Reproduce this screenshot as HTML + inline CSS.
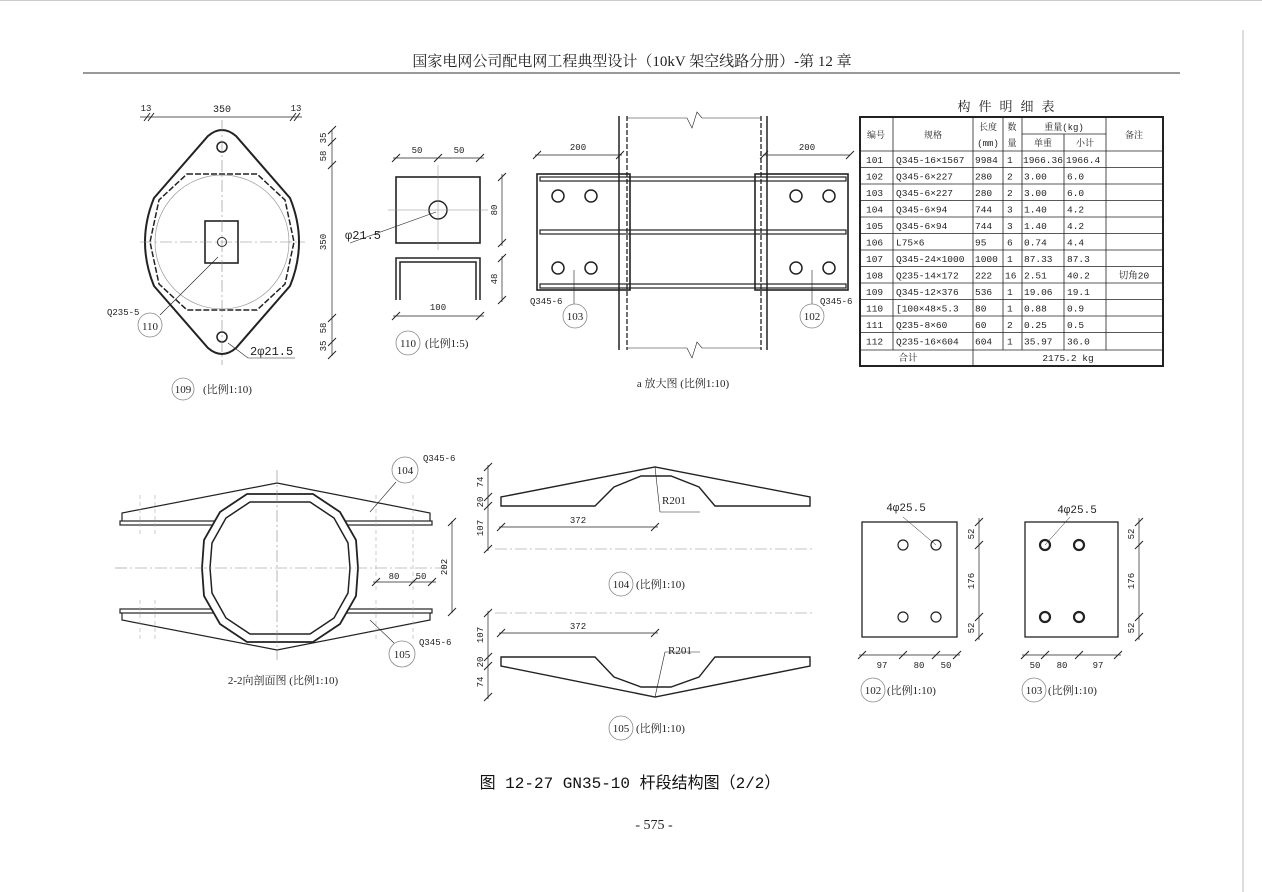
<!DOCTYPE html>
<html><head><meta charset="utf-8"><style>
html,body{margin:0;padding:0;background:#fff;}
svg{display:block;font-family:"Liberation Serif","Noto Serif CJK SC","Noto Sans CJK SC",serif;}
.t{font-size:11px;fill:#222;}
.s{font-size:9px;fill:#222;font-family:"Liberation Mono","Noto Serif CJK SC",monospace;}
.c{text-anchor:middle;}
</style></head><body>
<svg width="1262" height="892" viewBox="0 0 1262 892" xmlns="http://www.w3.org/2000/svg">
<rect width="1262" height="892" fill="#fff"/>
<line x1="1243" y1="30" x2="1243" y2="892" stroke="#bbb" stroke-width="1"/>
<line x1="0" y1="0.5" x2="1262" y2="0.5" stroke="#ccc"/>
<text x="632" y="66" class="c" style="font-size:15px;fill:#222">国家电网公司配电网工程典型设计（10kV 架空线路分册）-第 12 章</text>
<line x1="83" y1="73" x2="1180" y2="73" stroke="#333" stroke-width="1"/>

<g fill="none" stroke="#222" stroke-width="1">
<path d="M208,136 Q222,124 236,136 L290,198 Q308,242 290,286 L236,348 Q222,360 208,348 L154,286 Q136,242 154,198 Z" stroke-width="2"/>
<path d="M187,174 L257,174 L285,200 L294,242 L285,284 L257,310 L187,310 L159,284 L150,242 L159,200 Z" stroke-dasharray="6,2" stroke-width="1.5"/>
<circle cx="222" cy="242" r="67" stroke="#999" stroke-width="0.7"/>
<rect x="205" y="221" width="33" height="42" stroke-width="1.6"/>
<circle cx="222" cy="242" r="4.5"/>
<circle cx="222" cy="147" r="5" stroke-width="1.5"/>
<circle cx="222" cy="337" r="5" stroke-width="1.5"/>
<g stroke="#888" stroke-width="0.6" stroke-dasharray="12,3,2,3"><line x1="140" y1="242" x2="305" y2="242"/><line x1="222" y1="120" x2="222" y2="365"/></g>
<line x1="140" y1="117" x2="302" y2="117" stroke-width="0.7"/>
<path d="M144,121 l6,-8 M148,121 l6,-8 M290,121 l6,-8 M294,121 l6,-8" stroke-width="1"/>
<line x1="332" y1="130" x2="332" y2="356" stroke-width="0.7"/>
<path d="M328,134 l8,-8 M328,146 l8,-8 M328,169 l8,-8 M328,322 l8,-8 M328,346 l8,-8 M328,359 l8,-8"/>
<line x1="218" y1="257" x2="160" y2="315" stroke-width="0.6"/>
<polyline points="228,343 248,358 295,358" stroke-width="0.6"/>
<circle cx="150" cy="325" r="12" stroke="#888" stroke-width="0.8"/>
<circle cx="183" cy="389" r="11" stroke="#888" stroke-width="0.8"/>
<rect x="396" y="177" width="84" height="66" stroke-width="1.6"/>
<circle cx="438" cy="210" r="9" stroke-width="1.4"/>
<g stroke="#888" stroke-width="0.5"><line x1="388" y1="210" x2="488" y2="210"/><line x1="438" y1="165" x2="438" y2="250"/></g>
<line x1="350" y1="243" x2="436" y2="212" stroke-width="0.6"/>
<line x1="393" y1="158" x2="484" y2="158" stroke-width="0.7"/>
<path d="M392,162 l8,-8 M434,162 l8,-8 M476,162 l8,-8"/>
<line x1="502" y1="174" x2="502" y2="246" stroke-width="0.7"/>
<path d="M498,181 l8,-8 M498,247 l8,-8 M498,262 l8,-8 M498,304 l8,-8"/>
<line x1="502" y1="256" x2="502" y2="302" stroke-width="0.7"/>
<path d="M396,300 L396,258 L480,258 L480,300 M476,300 L476,262 L400,262 L400,300" stroke-width="1.5"/>
<line x1="393" y1="316" x2="484" y2="316" stroke-width="0.7"/>
<path d="M392,320 l8,-8 M476,320 l8,-8"/>
<circle cx="408" cy="343" r="12" stroke="#888" stroke-width="0.8"/>
<line x1="619" y1="116" x2="619" y2="350" stroke-width="1.5"/>
<line x1="627" y1="116" x2="627" y2="350" stroke-dasharray="5,2" stroke-width="1.3"/>
<line x1="761" y1="116" x2="761" y2="350" stroke-dasharray="5,2" stroke-width="1.3"/>
<line x1="767" y1="116" x2="767" y2="350" stroke-width="1.5"/>
<polyline points="627,118 687,118 692,128 697,112 702,118 761,118" stroke-width="0.6"/>
<polyline points="627,348 687,348 692,358 697,342 702,348 761,348" stroke-width="0.6"/>
<rect x="537" y="174" width="93" height="116" stroke-width="1.6"/>
<rect x="755" y="174" width="93" height="116" stroke-width="1.6"/>
<g stroke-width="1.2"><rect x="540" y="177" width="306" height="4"/><rect x="540" y="230" width="306" height="4"/><rect x="540" y="284" width="306" height="4"/></g>
<g stroke-width="1.5"><circle cx="558" cy="196" r="6"/><circle cx="591" cy="196" r="6"/><circle cx="558" cy="268" r="6"/><circle cx="591" cy="268" r="6"/><circle cx="796" cy="196" r="6"/><circle cx="829" cy="196" r="6"/><circle cx="796" cy="268" r="6"/><circle cx="829" cy="268" r="6"/></g>
<line x1="535" y1="155" x2="622" y2="155" stroke-width="0.7"/>
<line x1="763" y1="155" x2="850" y2="155" stroke-width="0.7"/>
<path d="M533,159 l8,-8 M616,159 l8,-8 M760,159 l8,-8 M846,159 l8,-8"/>
<line x1="574" y1="270" x2="574" y2="304" stroke-width="0.6"/>
<line x1="812" y1="270" x2="812" y2="304" stroke-width="0.6"/>
<circle cx="575" cy="316" r="12" stroke="#888" stroke-width="0.8"/>
<circle cx="812" cy="316" r="12" stroke="#888" stroke-width="0.8"/>
<rect x="860" y="117" width="303" height="249" stroke-width="2"/>
<g stroke-width="0.8">
<line x1="893" y1="117" x2="893" y2="350"/><line x1="973" y1="117" x2="973" y2="366"/>
<line x1="1003" y1="117" x2="1003" y2="350"/><line x1="1022" y1="117" x2="1022" y2="350"/>
<line x1="1064" y1="134" x2="1064" y2="350"/><line x1="1106" y1="117" x2="1106" y2="350"/>
<line x1="1022" y1="134" x2="1106" y2="134"/>
<line x1="860" y1="151" x2="1163" y2="151"/>
<line x1="860" y1="167.5" x2="1163" y2="167.5"/><line x1="860" y1="184" x2="1163" y2="184"/>
<line x1="860" y1="200.5" x2="1163" y2="200.5"/><line x1="860" y1="217" x2="1163" y2="217"/>
<line x1="860" y1="233.5" x2="1163" y2="233.5"/><line x1="860" y1="250" x2="1163" y2="250"/>
<line x1="860" y1="266.5" x2="1163" y2="266.5"/><line x1="860" y1="283" x2="1163" y2="283"/>
<line x1="860" y1="299.5" x2="1163" y2="299.5"/><line x1="860" y1="316" x2="1163" y2="316"/>
<line x1="860" y1="332.5" x2="1163" y2="332.5"/><line x1="860" y1="350" x2="1163" y2="350"/>
</g>
<path d="M122,521 L122,513 L277,483 L430,513 L430,521" stroke-width="1.2"/>
<path d="M122,613 L122,620 L277,650 L430,620 L430,613" stroke-width="1.2"/>
<rect x="120" y="521" width="312" height="4" stroke-width="1.2"/>
<rect x="120" y="609" width="312" height="4" stroke-width="1.2"/>
<path d="M247,494 L313,494 L340,512 L356,540 L358,568 L356,596 L340,624 L313,642 L247,642 L220,624 L204,596 L202,568 L204,540 L220,512 Z" fill="#fff" stroke-width="1.8"/>
<path d="M250,502 L310,502 L334,518 L348,543 L350,568 L348,593 L334,618 L310,634 L250,634 L226,618 L212,593 L210,568 L212,543 L226,518 Z" stroke-width="1.5"/>
<g stroke="#888" stroke-width="0.6" stroke-dasharray="12,3,2,3"><line x1="115" y1="568" x2="450" y2="568"/><line x1="277" y1="470" x2="277" y2="660"/></g>
<g stroke="#aaa" stroke-width="0.6" stroke-dasharray="4,3"><line x1="140" y1="495" x2="140" y2="535"/><line x1="155" y1="495" x2="155" y2="535"/><line x1="140" y1="600" x2="140" y2="640"/><line x1="155" y1="600" x2="155" y2="640"/><line x1="376" y1="495" x2="376" y2="590"/><line x1="413" y1="495" x2="413" y2="590"/><line x1="376" y1="600" x2="376" y2="640"/><line x1="413" y1="600" x2="413" y2="640"/></g>
<line x1="452" y1="521" x2="452" y2="613" stroke-width="0.7"/>
<path d="M448,526 l8,-8 M448,616 l8,-8"/>
<line x1="373" y1="582" x2="436" y2="582" stroke-width="0.7"/>
<path d="M372,586 l8,-8 M409,586 l8,-8 M428,586 l8,-8"/>
<line x1="396" y1="482" x2="370" y2="512" stroke-width="0.6"/>
<line x1="394" y1="643" x2="370" y2="620" stroke-width="0.6"/>
<circle cx="405" cy="470" r="13" stroke="#888" stroke-width="0.8"/>
<circle cx="402" cy="654" r="13" stroke="#888" stroke-width="0.8"/>
<path d="M501,506 L501,497 L655,467 L810,497 L810,506 L715,506 L699,487 L671,476 L641,476 L614,487 L595,506 Z" stroke-width="1.4"/>
<line x1="655" y1="467" x2="660" y2="512" stroke-width="0.6"/><line x1="660" y1="512" x2="700" y2="512" stroke-width="0.6"/>
<line x1="499" y1="527" x2="658" y2="527" stroke-width="0.7"/>
<path d="M497,531 l8,-8 M651,531 l8,-8"/>
<line x1="488" y1="465" x2="488" y2="551" stroke-width="0.7"/>
<path d="M484,471 l8,-8 M484,501 l8,-8 M484,510 l8,-8 M484,553 l8,-8"/>
<line x1="495" y1="549" x2="812" y2="549" stroke="#888" stroke-width="0.6" stroke-dasharray="12,3,2,3"/>
<circle cx="621" cy="584" r="12" stroke="#888" stroke-width="0.8"/>
<path d="M501,657 L501,666 L655,697 L810,666 L810,657 L715,657 L699,677 L671,687 L641,687 L614,677 L595,657 Z" stroke-width="1.4"/>
<line x1="655" y1="697" x2="665" y2="652" stroke-width="0.6"/><line x1="665" y1="652" x2="700" y2="652" stroke-width="0.6"/>
<line x1="499" y1="633" x2="658" y2="633" stroke-width="0.7"/>
<path d="M497,637 l8,-8 M651,637 l8,-8"/>
<line x1="488" y1="611" x2="488" y2="699" stroke-width="0.7"/>
<path d="M484,617 l8,-8 M484,661 l8,-8 M484,670 l8,-8 M484,701 l8,-8"/>
<line x1="495" y1="613" x2="812" y2="613" stroke="#888" stroke-width="0.6" stroke-dasharray="12,3,2,3"/>
<circle cx="621" cy="728" r="12" stroke="#888" stroke-width="0.8"/>
<rect x="862" y="522" width="95" height="115" stroke-width="1.3"/>
<g stroke-width="1.2"><circle cx="903" cy="545" r="5"/><circle cx="936" cy="545" r="5"/><circle cx="903" cy="617" r="5"/><circle cx="936" cy="617" r="5"/></g>
<line x1="979" y1="518" x2="979" y2="640" stroke-width="0.7"/>
<path d="M975,526 l8,-8 M975,549 l8,-8 M975,621 l8,-8 M975,641 l8,-8"/>
<line x1="859" y1="655" x2="960" y2="655" stroke-width="0.7"/>
<path d="M858,659 l8,-8 M899,659 l8,-8 M932,659 l8,-8 M953,659 l8,-8"/>
<line x1="903" y1="517" x2="936" y2="545" stroke-width="0.5"/>
<circle cx="873" cy="690" r="12" stroke="#888" stroke-width="0.8"/>
<rect x="1025" y="522" width="93" height="115" stroke-width="1.3"/>
<g stroke-width="2.2"><circle cx="1045" cy="545" r="5"/><circle cx="1079" cy="545" r="5"/><circle cx="1045" cy="617" r="5"/><circle cx="1079" cy="617" r="5"/></g>
<line x1="1139" y1="518" x2="1139" y2="640" stroke-width="0.7"/>
<path d="M1135,526 l8,-8 M1135,549 l8,-8 M1135,621 l8,-8 M1135,641 l8,-8"/>
<line x1="1022" y1="655" x2="1121" y2="655" stroke-width="0.7"/>
<path d="M1021,659 l8,-8 M1041,659 l8,-8 M1075,659 l8,-8 M1114,659 l8,-8"/>
<line x1="1070" y1="517" x2="1045" y2="545" stroke-width="0.5"/>
<circle cx="1034" cy="690" r="12" stroke="#888" stroke-width="0.8"/>
</g>

<g class="s">
<text x="146" y="111" class="c">13</text><text x="222" y="112" class="c" style="font-size:10px">350</text><text x="296" y="111" class="c">13</text>
<text transform="translate(326,138) rotate(-90)" class="c">35</text>
<text transform="translate(326,156) rotate(-90)" class="c">58</text>
<text transform="translate(326,242) rotate(-90)" class="c">350</text>
<text transform="translate(326,328) rotate(-90)" class="c">58</text>
<text transform="translate(326,346) rotate(-90)" class="c">35</text>
<text x="107" y="315">Q235-5</text>
<text x="417" y="153" class="c">50</text><text x="459" y="153" class="c">50</text>
<text transform="translate(497,210) rotate(-90)" class="c">80</text>
<text transform="translate(497,279) rotate(-90)" class="c">48</text>
<text x="438" y="310" class="c">100</text>
<text x="578" y="150" class="c">200</text><text x="807" y="150" class="c">200</text>
<text x="530" y="304">Q345-6</text><text x="820" y="304">Q345-6</text>
<text x="423" y="461">Q345-6</text><text x="419" y="645">Q345-6</text>
<text x="394" y="579" class="c">80</text><text x="421" y="579" class="c">50</text>
<text transform="translate(447,567) rotate(-90)" class="c">202</text>
<text transform="translate(483,482) rotate(-90)" class="c">74</text>
<text transform="translate(483,502) rotate(-90)" class="c">20</text>
<text transform="translate(483,528) rotate(-90)" class="c">107</text>
<text x="578" y="523" class="c">372</text>
<text transform="translate(483,635) rotate(-90)" class="c">107</text>
<text transform="translate(483,662) rotate(-90)" class="c">20</text>
<text transform="translate(483,682) rotate(-90)" class="c">74</text>
<text x="578" y="629" class="c">372</text>
<text transform="translate(974,534) rotate(-90)" class="c">52</text>
<text transform="translate(974,581) rotate(-90)" class="c">176</text>
<text transform="translate(974,628) rotate(-90)" class="c">52</text>
<text x="882" y="668" class="c">97</text><text x="919" y="668" class="c">80</text><text x="946" y="668" class="c">50</text>
<text transform="translate(1134,534) rotate(-90)" class="c">52</text>
<text transform="translate(1134,581) rotate(-90)" class="c">176</text>
<text transform="translate(1134,628) rotate(-90)" class="c">52</text>
<text x="1035" y="668" class="c">50</text><text x="1062" y="668" class="c">80</text><text x="1098" y="668" class="c">97</text>
</g>
<g class="t">
<text x="150" y="330" class="c">110</text>
<text x="250" y="355" style="font-size:12px;font-family:'Liberation Mono',monospace">2φ21.5</text>
<text x="183" y="393" class="c">109</text><text x="203" y="393">(比例1:10)</text>
<text x="345" y="239" style="font-size:12px;font-family:'Liberation Mono',monospace">φ21.5</text>
<text x="408" y="347" class="c">110</text><text x="425" y="347">(比例1:5)</text>
<text x="575" y="320" class="c">103</text><text x="812" y="320" class="c">102</text>
<text x="683" y="387" class="c">a 放大图 (比例1:10)</text>
<text x="405" y="474" class="c">104</text><text x="402" y="658" class="c">105</text>
<text x="283" y="684" class="c">2-2向剖面图 (比例1:10)</text>
<text x="662" y="504">R201</text><text x="668" y="654">R201</text>
<text x="621" y="588" class="c">104</text><text x="636" y="588">(比例1:10)</text>
<text x="621" y="732" class="c">105</text><text x="636" y="732">(比例1:10)</text>
<text x="906" y="511" class="c" style="font-family:'Liberation Mono',monospace">4φ25.5</text><text x="1077" y="513" class="c" style="font-family:'Liberation Mono',monospace">4φ25.5</text>
<text x="873" y="694" class="c">102</text><text x="887" y="694">(比例1:10)</text>
<text x="1034" y="694" class="c">103</text><text x="1048" y="694">(比例1:10)</text>
</g>
<text x="1010" y="111" class="c" style="font-size:13px;fill:#222;letter-spacing:8px">构件明细表</text>
<g class="s">
<text x="876" y="138" class="c">编号</text><text x="933" y="138" class="c">规格</text>
<text x="988" y="130" class="c">长度</text><text x="988" y="146" class="c">(mm)</text>
<text x="1012" y="130" class="c">数</text><text x="1012" y="146" class="c">量</text>
<text x="1064" y="130" class="c">重量(kg)</text><text x="1043" y="146" class="c">单重</text><text x="1085" y="146" class="c">小计</text>
<text x="1134" y="138" class="c">备注</text>
</g>
<g class="s" style="font-size:9.5px">
<g transform="translate(0,163)"><text x="866">101</text><text x="896">Q345-16×1567</text><text x="975">9984</text><text x="1007">1</text><text x="1023">1966.36</text><text x="1066">1966.4</text></g>
<g transform="translate(0,179.5)"><text x="866">102</text><text x="896">Q345-6×227</text><text x="975">280</text><text x="1007">2</text><text x="1024">3.00</text><text x="1067">6.0</text></g>
<g transform="translate(0,196)"><text x="866">103</text><text x="896">Q345-6×227</text><text x="975">280</text><text x="1007">2</text><text x="1024">3.00</text><text x="1067">6.0</text></g>
<g transform="translate(0,212.5)"><text x="866">104</text><text x="896">Q345-6×94</text><text x="975">744</text><text x="1007">3</text><text x="1024">1.40</text><text x="1067">4.2</text></g>
<g transform="translate(0,229)"><text x="866">105</text><text x="896">Q345-6×94</text><text x="975">744</text><text x="1007">3</text><text x="1024">1.40</text><text x="1067">4.2</text></g>
<g transform="translate(0,245.5)"><text x="866">106</text><text x="896">L75×6</text><text x="975">95</text><text x="1007">6</text><text x="1024">0.74</text><text x="1067">4.4</text></g>
<g transform="translate(0,262)"><text x="866">107</text><text x="896">Q345-24×1000</text><text x="975">1000</text><text x="1007">1</text><text x="1024">87.33</text><text x="1067">87.3</text></g>
<g transform="translate(0,278.5)"><text x="866">108</text><text x="896">Q235-14×172</text><text x="975">222</text><text x="1005">16</text><text x="1024">2.51</text><text x="1067">40.2</text><text x="1134" class="c">切角20</text></g>
<g transform="translate(0,295)"><text x="866">109</text><text x="896">Q345-12×376</text><text x="975">536</text><text x="1007">1</text><text x="1024">19.06</text><text x="1067">19.1</text></g>
<g transform="translate(0,311.5)"><text x="866">110</text><text x="896">[100×48×5.3</text><text x="975">80</text><text x="1007">1</text><text x="1024">0.88</text><text x="1067">0.9</text></g>
<g transform="translate(0,328)"><text x="866">111</text><text x="896">Q235-8×60</text><text x="975">60</text><text x="1007">2</text><text x="1024">0.25</text><text x="1067">0.5</text></g>
<g transform="translate(0,344.5)"><text x="866">112</text><text x="896">Q235-16×604</text><text x="975">604</text><text x="1007">1</text><text x="1024">35.97</text><text x="1067">36.0</text></g>
<text x="908" y="361" class="c">合计</text><text x="1068" y="361" class="c">2175.2 kg</text>
</g>
<text x="630" y="788" class="c" style="font-family:'Liberation Mono','Noto Sans CJK SC',monospace;font-size:16px;fill:#111">图 12-27  GN35-10 杆段结构图（2/2）</text>
<text x="654" y="829" class="c" style="font-size:14px;fill:#222">- 575 -</text>
</svg>
</body></html>
